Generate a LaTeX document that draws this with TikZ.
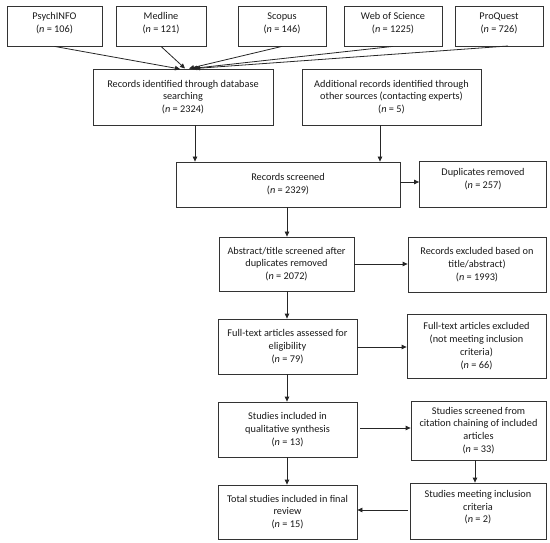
\documentclass[tikz,border=0pt]{standalone}
\usepackage{fontspec}
\setmainfont{Carlito}
\usetikzlibrary{arrows.meta,calc}
\begin{document}
\begin{tikzpicture}[x=1pt,y=-1pt,
  box/.style={draw=black!80, line width=0.8pt, rectangle, inner sep=0pt, align=center,
    font=\fontsize{10.3}{12.8}\selectfont, text=black!90},
  arr/.style={draw=black!85, line width=0.8pt, -{Triangle[length=5pt,width=4.5pt]}}]
\useasboundingbox (0,0) rectangle (550,543);
% top sources
\node[box, minimum width=95pt, minimum height=40pt] (psy) at (54.5,26) {PsychINFO\\(\textit{n} = 106)\\[-6pt]\mbox{}};
\node[box, minimum width=90pt, minimum height=40pt] (med) at (161,26) {Medline\\(\textit{n} = 121)\\[-6pt]\mbox{}};
\node[box, minimum width=88pt, minimum height=40pt] (sco) at (282,26) {Scopus\\(\textit{n} = 146)\\[-6pt]\mbox{}};
\node[box, minimum width=98pt, minimum height=40pt] (wos) at (393,26) {Web of Science\\(\textit{n} = 1225)\\[-6pt]\mbox{}};
\node[box, minimum width=88pt, minimum height=40pt] (pro) at (499,26) {ProQuest\\(\textit{n} = 726)\\[-6pt]\mbox{}};
% identification
\node[box, minimum width=180pt, minimum height=56pt] (rid) at (183,97) {Records identified through database\\searching\\(\textit{n} = 2324)};
\node[box, minimum width=179pt, minimum height=56pt] (add) at (391.5,97) {Additional records identified through\\other sources (contacting experts)\\(\textit{n} = 5)};
% screening
\node[box, minimum width=224pt, minimum height=45pt] (scr) at (288,184.5) {Records screened\\(\textit{n} = 2329)};
\node[box, minimum width=127pt, minimum height=46pt] (dup) at (483,184) {Duplicates removed\\(\textit{n} = 257)\\[-2pt]\mbox{}};
\node[box, minimum width=135pt, minimum height=54pt] (abs) at (286.5,264) {Abstract/title screened after\\duplicates removed\\(\textit{n} = 2072)};
\node[box, minimum width=138pt, minimum height=55pt] (rex) at (477,264.5) {Records excluded based on\\title/abstract)\\(\textit{n} = 1993)};
% eligibility
\node[box, minimum width=139pt, minimum height=55pt] (ful) at (287.5,346.5) {Full-text articles assessed for\\eligibility\\(\textit{n} = 79)};
\node[box, minimum width=139pt, minimum height=64pt] (fex) at (476.5,346) {Full-text articles excluded\\(not meeting inclusion\\criteria)\\(\textit{n} = 66)};
% included
\node[box, minimum width=139pt, minimum height=55pt] (inc) at (287.5,429.5) {Studies included in\\qualitative synthesis\\(\textit{n} = 13)};
\node[box, minimum width=135pt, minimum height=59pt] (ssc) at (478.5,430.5) {Studies screened from\\citation chaining of included\\articles\\(\textit{n} = 33)};
\node[box, minimum width=139pt, minimum height=54pt] (tot) at (287.5,512) {Total studies included in final\\review\\(\textit{n} = 15)};
\node[box, minimum width=136pt, minimum height=56pt] (smi) at (478,511) {Studies meeting inclusion\\criteria\\(\textit{n} = 2)\\[-4pt]\mbox{}};
% converging targets
\coordinate (t1) at (180,69);
\coordinate (t2) at (185,68.5);
\coordinate (t3) at (189,68.5);
\coordinate (t4) at (192,68.5);
\coordinate (t5) at (195,68.5);
\coordinate (s5) at (508,46);
\draw[arr] (psy.south) -- (t1);
\draw[arr] (med.south) -- (t2);
\draw[arr] (sco.south) -- (t3);
\draw[arr] (wos.south) -- (t4);
\draw[arr] (s5) -- (t5);
% vertical connectors
\coordinate (c1) at (195,0);
\coordinate (c2) at (380,0);
\coordinate (c3) at (287,0);
\coordinate (c4) at (475,0);
\draw[arr] (rid.south -| c1) -- (scr.north -| c1);
\draw[arr] (add.south -| c2) -- (scr.north -| c2);
\draw[arr] (scr.south -| c3) -- (abs.north -| c3);
\draw[arr] (abs.south -| c3) -- (ful.north -| c3);
\draw[arr] (ful.south -| c3) -- (inc.north -| c3);
\draw[arr] (inc.south -| c3) -- (tot.north -| c3);
\draw[arr] (ssc.south -| c4) -- (smi.north -| c4);
% horizontal connectors
\coordinate (r1) at (0,182);
\coordinate (r2) at (0,264);
\coordinate (r3) at (0,347);
\coordinate (r4) at (0,428);
\coordinate (r5) at (0,510);
\draw[arr] (scr.east |- r1) -- (dup.west |- r1);
\draw[arr] (abs.east |- r2) -- (rex.west |- r2);
\draw[arr] (ful.east |- r3) -- (fex.west |- r3);
\draw[arr] ($(inc.east |- r4)+(3,0)$) -- (ssc.west |- r4);
\draw[arr] ($(smi.west |- r5)+(-2,0)$) -- (tot.east |- r5);
\end{tikzpicture}
\end{document}
